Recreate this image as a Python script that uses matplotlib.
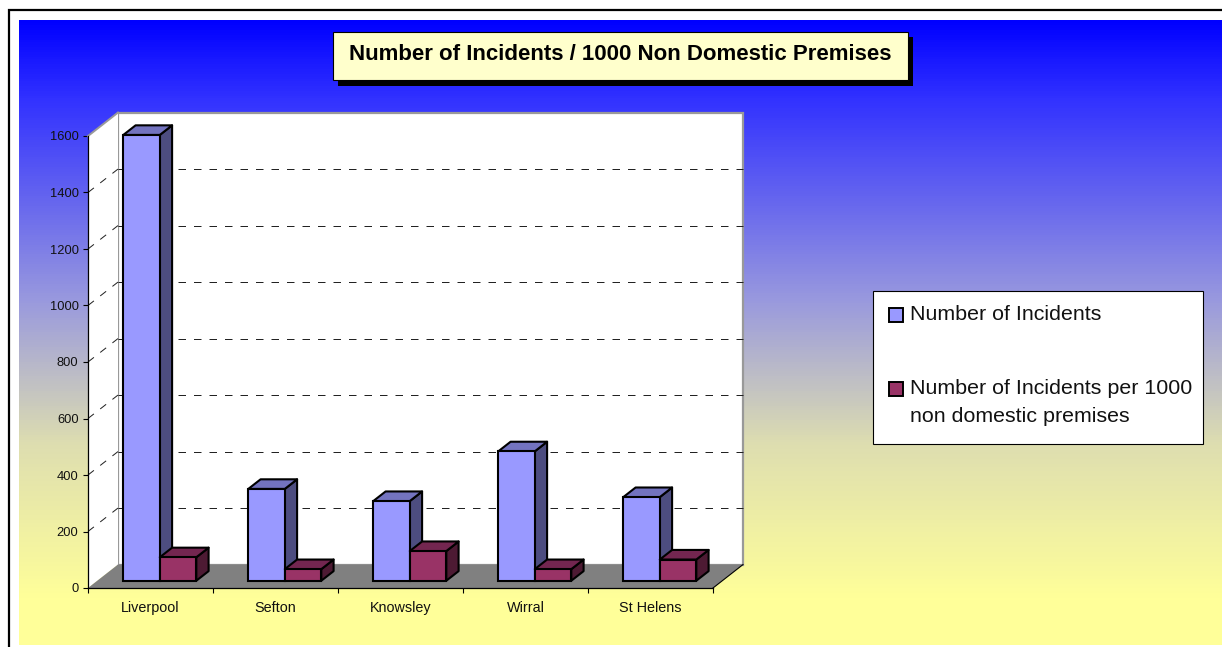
import numpy as np
import matplotlib
matplotlib.use("Agg")
import matplotlib.pyplot as plt
from matplotlib.colors import LinearSegmentedColormap
from matplotlib.patches import Rectangle

plt.rcParams['font.family'] = ['Liberation Sans', 'DejaVu Sans']

categories = ["Liverpool", "Sefton", "Knowsley", "Wirral", "St Helens"]
incidents = [1578, 325, 282, 458, 296]
per_1000 = [83, 41, 105, 41, 75]
y_ticks = [0, 200, 400, 600, 800, 1000, 1200, 1400, 1600]

W, H = 1222, 647
BLUE = ("#9999FF", "#4D4D80", "#7373BF")   # front, side, top
RED = ("#993366", "#4D1A33", "#732650")

# depth of the fake 3d box in data units
DX = 0.24
DY = 83
BAR_W = 0.292
BAR_D0 = 0.31
BAR_D1 = 0.72


def box(x0, y0, w, h):
    return [x0 / W, 1 - (y0 + h) / H, w / W, h / H]


def proj(x, y, d):
    return x + d * DX, y + d * DY


def draw_bar(ax, x, val, colors, z):
    fx, fy = proj(x, 0, BAR_D0)
    bx, by = proj(x, 0, BAR_D1)
    side = [(fx + BAR_W, fy), (bx + BAR_W, by), (bx + BAR_W, by + val), (fx + BAR_W, fy + val)]
    top = [(fx, fy + val), (bx, by + val), (bx + BAR_W, by + val), (fx + BAR_W, fy + val)]
    ax.fill(*zip(*side), fc=colors[1], ec="black", lw=1.5, zorder=z, clip_on=False, joinstyle="round")
    ax.fill(*zip(*top), fc=colors[2], ec="black", lw=1.5, zorder=z, clip_on=False, joinstyle="round")
    ax.bar(fx, val, width=BAR_W, bottom=fy, align="edge", fc=colors[0], ec="black", lw=1.5,
           zorder=z, clip_on=False)


fig = plt.figure(figsize=(W / 100, H / 100), dpi=100, facecolor="white")

# background: black frame and the vertical gradient
bg = fig.add_axes([0, 0, 1, 1], zorder=0)
bg.set_xlim(0, W)
bg.set_ylim(H, 0)
bg.axis("off")
stops = [(20, "#0000FF"), (100, "#3333FF"), (300, "#9999DE"), (445, "#DEDEB0"), (600, "#FFFF99"), (645, "#FFFF99")]
cmap = LinearSegmentedColormap.from_list("bg", [((y - 20) / 625, c) for y, c in stops])
bg.imshow(np.linspace(0, 1, 625).reshape(-1, 1), cmap=cmap, aspect="auto", extent=(19, W, 645, 20))
bg.set_xlim(0, W)
bg.set_ylim(H, 0)
bg.plot([9, 9, W], [H, 10, 10], color="black", lw=1.6, solid_joinstyle="miter")

# chart
ax = fig.add_axes(box(88, 136, 625, 452), zorder=1)
ax.patch.set_visible(False)
ax.set_xlim(0, 5)
ax.set_ylim(0, 1600)
for s in ["top", "right"]:
    ax.spines[s].set_visible(False)
for s in ["left", "bottom"]:
    ax.spines[s].set_linewidth(0.9)
    ax.spines[s].set_zorder(8)
ax.set_yticks(y_ticks)
ax.set_xticks(range(6))
ax.set_xticklabels([])
ax.set_xticks(np.arange(5) + 0.5, categories, minor=True)
ax.tick_params(axis="y", length=3.6, width=0.8, labelsize=9.3, pad=3.2, color="black", labelcolor="#111111")
ax.tick_params(axis="x", which="major", length=3.6, width=0.8)
ax.tick_params(axis="x", which="minor", length=0, labelsize=10.4, pad=17.5, labelcolor="#111111")
for lab in ax.get_xticklabels(minor=True):
    lab.set_verticalalignment("baseline")

wall = [proj(0, 0, 1), proj(5, 0, 1), proj(5, 1600, 1), proj(0, 1600, 1)]
side_wall = [proj(0, 0, 0), proj(0, 0, 1), proj(0, 1600, 1), proj(0, 1600, 0)]
floor = [proj(0, 0, 0), proj(5, 0, 0), proj(5, 0, 1), proj(0, 0, 1)]
ax.fill(*zip(*wall), fc="white", ec="#999999", lw=1.6, zorder=1, clip_on=False)
ax.fill(*zip(*side_wall), fc="white", ec="none", zorder=1, clip_on=False)
ax.plot(*zip(proj(0, 1600, 0), proj(0, 1600, 1)), color="#999999", lw=1.4, zorder=2, clip_on=False)
ax.fill(*zip(*floor), fc="#808080", ec="none", zorder=2, clip_on=False)
ax.plot(*zip(proj(5, 0, 0), proj(5, 0, 1)), color="black", lw=0.8, zorder=3, clip_on=False)

# dashed grid on both walls
for v in y_ticks[1:-1]:
    xs, ys = zip(proj(0, v, 0), proj(0, v, 1))
    ax.plot(xs, ys, color="#222222", lw=0.72, ls=(0, (7.5, 8)), zorder=3, clip_on=False)
    xs, ys = zip(proj(0, v, 1), proj(5, v, 1))
    ax.plot(xs, ys, color="#222222", lw=0.72, ls=(2, (7.5, 8)), zorder=3, clip_on=False)

z = 4
for i in range(len(categories)):
    x = i + 0.208
    draw_bar(ax, x, incidents[i], BLUE, z)
    draw_bar(ax, x + BAR_W, per_1000[i], RED, z + 1)

# title box with hard shadow
over = fig.add_axes([0, 0, 1, 1], zorder=2)
over.set_xlim(0, W)
over.set_ylim(H, 0)
over.axis("off")
over.add_patch(Rectangle((338, 37), 575, 49, fc="black", ec="none"))
over.add_patch(Rectangle((333, 32), 575, 48, fc="#FFFFCC", ec="black", lw=0.8))
over.text(620.5, 54.5, "Number of Incidents / 1000 Non Domestic Premises", ha="center", va="center",
          fontsize=16, fontweight="bold", color="black")

# legend
over.add_patch(Rectangle((873, 291), 330, 153, fc="white", ec="black", lw=0.8))
over.add_patch(Rectangle((889, 308), 14, 14, fc=BLUE[0], ec="black", lw=1.4))
over.add_patch(Rectangle((889, 382), 14, 14, fc=RED[0], ec="black", lw=1.4))
over.text(910, 314, "Number of Incidents", fontsize=15.4, va="center", ha="left", color="#111111")
over.text(910, 389, "Number of Incidents per 1000", fontsize=15.4, va="center", ha="left", color="#111111")
over.text(910, 417, "non domestic premises", fontsize=15.4, va="center", ha="left", color="#111111")

fig.savefig("out.png", dpi=100)
